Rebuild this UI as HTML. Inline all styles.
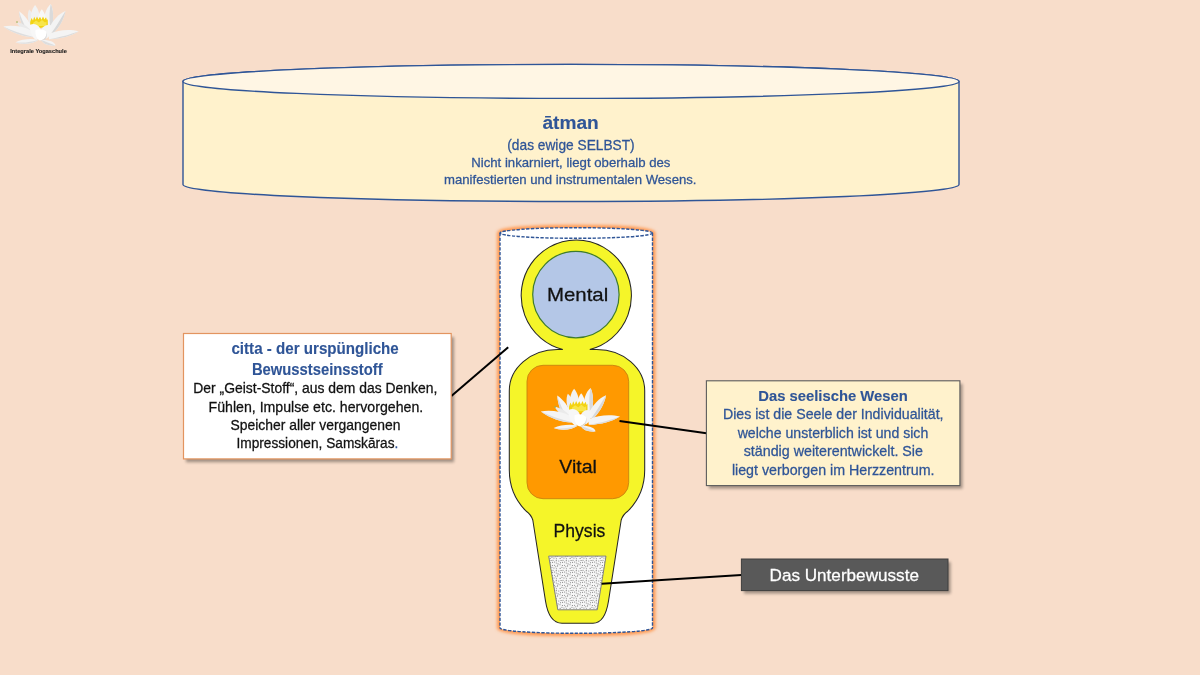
<!DOCTYPE html>
<html><head><meta charset="utf-8">
<style>
html,body{margin:0;padding:0;}
body{width:1200px;height:675px;overflow:hidden;background:#F8DDCA;font-family:"Liberation Sans",sans-serif;}
svg{position:absolute;left:0;top:0;will-change:transform;}
</style></head><body>
<svg width="1200" height="675" viewBox="0 0 1200 675" font-family="Liberation Sans, sans-serif">
<defs>
  <filter id="glow" x="-20%" y="-10%" width="140%" height="120%">
    <feGaussianBlur stdDeviation="1.8"/>
  </filter>
  <filter id="shd" x="-10%" y="-20%" width="130%" height="150%">
    <feGaussianBlur stdDeviation="1.5"/>
  </filter>
  <pattern id="dots" width="10" height="10" patternUnits="userSpaceOnUse">
    <rect width="10" height="10" fill="#F7F7F7"/>
    <g fill="#777777"><circle cx="2.38" cy="5.44" r="0.55"/><circle cx="6.26" cy="0.66" r="0.55"/><circle cx="6.26" cy="10.66" r="0.55"/><circle cx="0.13" cy="8.37" r="0.55"/><circle cx="10.13" cy="8.37" r="0.55"/><circle cx="2.59" cy="2.34" r="0.55"/><circle cx="-0.04" cy="4.70" r="0.55"/><circle cx="9.96" cy="4.70" r="0.55"/><circle cx="6.35" cy="8.68" r="0.55"/><circle cx="7.58" cy="5.91" r="0.55"/><circle cx="3.01" cy="0.31" r="0.55"/><circle cx="3.01" cy="10.31" r="0.55"/><circle cx="3.95" cy="8.01" r="0.55"/><circle cx="8.79" cy="0.97" r="0.55"/><circle cx="8.79" cy="10.97" r="0.55"/><circle cx="6.27" cy="3.01" r="0.55"/><circle cx="4.60" cy="5.20" r="0.55"/><circle cx="0.50" cy="2.71" r="0.55"/><circle cx="10.50" cy="2.71" r="0.55"/><circle cx="5.80" cy="6.76" r="0.55"/><circle cx="1.09" cy="0.43" r="0.55"/><circle cx="1.09" cy="10.43" r="0.55"/><circle cx="4.60" cy="1.95" r="0.55"/><circle cx="8.02" cy="3.88" r="0.55"/><circle cx="1.94" cy="7.31" r="0.55"/></g>
  </pattern>
  <g id="lotus">
  <!-- back tall petals -->
  <path d="M29.1,9.6 C27,14 27.5,21 31,28 L37,26 C36,19 33,13 29.1,9.6Z" fill="#EDEDED"/>
  <path d="M35.1,4.9 C31.5,9 30,16 31.5,26 L40.5,25 C40.5,16 38.5,9 35.1,4.9Z" fill="#F2F2F2"/>
  <path d="M50.7,4.1 C46,8 43.5,16 44,25 L52.5,26 C53.5,17 53.5,9.5 50.7,4.1Z" fill="#F4F4F4"/>
  <path d="M50.7,4.1 C49.5,10 49,17 50,25.5 L52.5,26 C53.5,17 53.5,9.5 50.7,4.1Z" fill="#DADADA"/>
  <path d="M41.8,9.2 C38.5,13 37.5,19 38.5,25.5 L46,25 C46.5,19 45,13 41.8,9.2Z" fill="#F8F8F8"/>
  <!-- yellow stamens -->
  <path d="M30.2,22 L31.5,18 L33,20.5 L34.2,16.8 L35.6,19.8 L37,16.5 L38.4,19.5 L40,16.8 L41.5,19.8 L43,16.5 L44.4,19.5 L46,17.2 L47,20.3 L47.8,19 L47.8,26 C43,28.5 35,28.5 30.2,26Z" fill="#F3D312"/>
  <path d="M33,23 L36,20.5 L39,22.5 L42,20 L45,22.5 L46.5,21.5 L46.5,26 L33,26Z" fill="#F8E54A"/>
  <!-- side upper petals -->
  <path d="M18.97,11.3 C24.5,15 29.5,21 33,31 L27,33 C22,27 19.5,19 18.97,11.3Z" fill="#F5F5F5"/>
  <path d="M18.97,11.3 C21,18 24,25 28.5,32.5 L27,33 C22,27 19.5,19 18.97,11.3Z" fill="#DCDCDC"/>
  <path d="M65.5,10.9 C59,13.5 52.5,20 47.5,31 L53,33.5 C59.5,27 64,19 65.5,10.9Z" fill="#F3F3F3"/>
  <path d="M65.5,10.9 C61.5,17.5 57,25 51.5,33 L53,33.5 C59.5,27 64,19 65.5,10.9Z" fill="#D8D8D8"/>
  <path d="M16.4,21.9 C21,22.5 27,25.5 31,30.5 L27,32.5 C22.5,29.5 18.5,26 16.4,21.9Z" fill="#EAEAEA"/>
  <circle cx="17" cy="22.1" r="0.8" fill="#9AAE50"/>
  <!-- horizontal petals -->
  <path d="M3.3,26.5 C11,25 23,26 31,30.5 L34,37 C25,37.5 12,33 3.3,26.5Z" fill="#F4F4F4"/>
  <path d="M3.3,26.5 C12,30.5 22,34 34,37 C25,37.5 12,33 3.3,26.5Z" fill="#DEDEDE"/>
  <path d="M78.7,31.2 C70,29 59,29.5 48.5,34 L49,39.2 C61,38.8 71,36 78.7,31.2Z" fill="#F4F4F4"/>
  <path d="M78.7,31.2 C70,34.5 61,37 49,39.2 C61,38.8 71,36 78.7,31.2Z" fill="#DBDBDB"/>
  <!-- front cup petals -->
  <path d="M30,25 C33,23 37.5,24 40,28 C41.5,33 40,38 36.5,40 C32,38 29.5,31 30,25Z" fill="#F7F7F7"/>
  <path d="M51.5,25.5 C47.5,24 43,25.5 41.5,29.5 C40.5,34 42.5,37.5 46.5,38.5 C50.5,36 52.5,31 51.5,25.5Z" fill="#F5F5F5"/>
  <path d="M35.5,30 C39.5,28.5 44,29 46.5,32 C47,36.5 43.5,40.5 40,40.5 C36.5,39.5 35,34.5 35.5,30Z" fill="#FFFFFF"/>
  <path d="M40,40.5 C43.5,40.5 47,36.5 46.5,32 C48,36 46,40 42.5,41.5Z" fill="#DDDDDD"/>
  <!-- bottom petals -->
  <path d="M15.6,42.2 C22,39 31,38.5 38.8,39.7 C33,44 23,45 15.6,42.2Z" fill="#F4F4F4"/>
  <path d="M15.6,42.2 C23,43.3 31,42 38.8,39.7 C33,44 23,45 15.6,42.2Z" fill="#E0E0E0"/>
  <path d="M55.4,45.6 C55.5,42 49,39.5 41.5,40 C43,44 48.5,46 55.4,45.6Z" fill="#F3F3F3"/>
  <path d="M55.4,45.6 C51.5,44 46.5,42 41.5,40 C43,44 48.5,46 55.4,45.6Z" fill="#DDDDDD"/>
</g>

</defs>

<!-- logo -->
<use href="#lotus"/>

<!-- big cylinder atman -->
<path d="M183,81.4 L183,184.5 A388,17 0 0 0 959,184.5 L959,81.4 A388,17 0 0 0 183,81.4Z" fill="#FFF2CC" stroke="#2F5597" stroke-width="1.4"/>
<ellipse cx="571" cy="81.4" rx="388" ry="17" fill="#FFF6E4" stroke="#2F5597" stroke-width="1.4"/>

<!-- tall cylinder -->
<path d="M500,233 L500,628 A76.25,5.3 0 0 0 652.5,628 L652.5,233 A76.25,5.3 0 0 0 500,233Z" fill="none" stroke="#FF9B55" stroke-width="6" filter="url(#glow)"/>
<path d="M500,233 L500,628 A76.25,5.3 0 0 0 652.5,628 L652.5,233 A76.25,5.3 0 0 0 500,233Z" fill="#FFFFFF"/>
<path d="M500,233 L500,628 A76.25,5.3 0 0 0 652.5,628 L652.5,233" fill="none" stroke="#2F5597" stroke-width="1.4" stroke-dasharray="3.3 1.45"/>
<ellipse cx="576.25" cy="233" rx="76.25" ry="5.3" fill="none" stroke="#2F5597" stroke-width="1.4" stroke-dasharray="3.3 1.45"/>

<!-- body -->
<path d="M562.8,349.5 L557.3,349.5 A48,41.3 0 0 0 509.3,390.8 L509.3,470 C509.3,489 518,503 526,511 Q531,514.5 532.8,520 L545.5,601 C547.5,614 552,623 562,623.3 L593,623.3 C602,623 606.5,614 608.5,601 L621.2,520 Q623,514.5 628,511 C636,503 644.7,489 644.7,470 L644.7,390.8 A48,41.3 0 0 0 596.7,349.5 L589.8,349.5 A55.1,55.6 0 1 0 562.8,349.5Z" fill="#F5F529" stroke="#262626" stroke-width="1.05"/>
<circle cx="575.9" cy="294.6" r="43.2" fill="#B4C7E7" stroke="#3E7B2E" stroke-width="1.2"/>
<rect x="527" y="365.3" width="101.7" height="133.4" rx="16" fill="#FF9900" stroke="#C8830F" stroke-width="0.9"/>
<path d="M548.7,556.1 L606,556.1 L597.3,609.8 L557.8,609.8Z" fill="url(#dots)" stroke="#808080" stroke-width="1"/>

<use href="#lotus" transform="translate(537.3,383.7) scale(1.05)"/>

<!-- connector lines -->
<line x1="451.4" y1="396" x2="508.2" y2="347.3" stroke="#000" stroke-width="2"/>
<line x1="619.5" y1="421" x2="706.5" y2="433.2" stroke="#000" stroke-width="2"/>
<line x1="601.7" y1="583.7" x2="741.4" y2="575" stroke="#000" stroke-width="2"/>

<!-- left box -->
<rect x="186" y="337" width="268" height="125.2" fill="#000" opacity="0.35" filter="url(#shd)"/>
<rect x="183.5" y="333.5" width="267.7" height="125.4" fill="#FFFFFF" stroke="#E3945F" stroke-width="1.2"/>

<!-- right box -->
<rect x="709" y="383.8" width="253.5" height="104.8" fill="#000" opacity="0.35" filter="url(#shd)"/>
<rect x="706.4" y="380.8" width="253.5" height="104.8" fill="#FFF2CC" stroke="#5C5C5C" stroke-width="1.1"/>

<!-- dark box -->
<rect x="744" y="562" width="206.6" height="31.6" fill="#000" opacity="0.35" filter="url(#shd)"/>
<rect x="741.4" y="559" width="206.6" height="31.6" fill="#595959" stroke="#3F3F3F" stroke-width="1"/>
<text x="10.29" y="52.8" font-size="6.1" font-weight="bold" fill="#1a1a1a" stroke="#1a1a1a" stroke-width="0.12" textLength="56.54" lengthAdjust="spacingAndGlyphs">Integrale Yogaschule</text>
<text x="542.45" y="128.7" font-size="18.75" font-weight="bold" fill="#2F5597" stroke="#2F5597" stroke-width="0.12" textLength="56.34" lengthAdjust="spacingAndGlyphs">ātman</text>
<text x="507.30" y="149.6" font-size="13.85" font-weight="normal" fill="#2F5597" stroke="#2F5597" stroke-width="0.26" textLength="127.39" lengthAdjust="spacingAndGlyphs">(das ewige SELBST)</text>
<text x="471.23" y="167.1" font-size="12.6" font-weight="normal" fill="#2F5597" stroke="#2F5597" stroke-width="0.26" textLength="199.22" lengthAdjust="spacingAndGlyphs">Nicht inkarniert, liegt oberhalb des</text>
<text x="444.02" y="183.5" font-size="12.6" font-weight="normal" fill="#2F5597" stroke="#2F5597" stroke-width="0.26" textLength="252.52" lengthAdjust="spacingAndGlyphs">manifestierten und instrumentalen Wesens.</text>
<text x="547.05" y="300.9" font-size="18.6" font-weight="normal" fill="#111111" stroke="#111111" stroke-width="0.26" textLength="61.20" lengthAdjust="spacingAndGlyphs">Mental</text>
<text x="559.21" y="472.5" font-size="18.6" font-weight="normal" fill="#111111" stroke="#111111" stroke-width="0.26" textLength="37.65" lengthAdjust="spacingAndGlyphs">Vital</text>
<text x="553.59" y="537.0" font-size="18.6" font-weight="normal" fill="#111111" stroke="#111111" stroke-width="0.26" textLength="51.74" lengthAdjust="spacingAndGlyphs">Physis</text>
<text x="231.46" y="353.75" font-size="16.0" font-weight="bold" fill="#2F5597" stroke="#2F5597" stroke-width="0.12" textLength="167.32" lengthAdjust="spacingAndGlyphs">citta - der urspüngliche</text>
<text x="251.93" y="374.7" font-size="16.0" font-weight="bold" fill="#2F5597" stroke="#2F5597" stroke-width="0.12" textLength="130.69" lengthAdjust="spacingAndGlyphs">Bewusstseinsstoff</text>
<text x="193.26" y="393.3" font-size="14.1" font-weight="normal" fill="#111111" stroke="#111111" stroke-width="0.26" textLength="244.17" lengthAdjust="spacingAndGlyphs">Der „Geist-Stoff“, aus dem das Denken,</text>
<text x="208.54" y="411.9" font-size="14.1" font-weight="normal" fill="#111111" stroke="#111111" stroke-width="0.26" textLength="214.68" lengthAdjust="spacingAndGlyphs">Fühlen, Impulse etc. hervorgehen.</text>
<text x="230.41" y="430.4" font-size="14.1" font-weight="normal" fill="#111111" stroke="#111111" stroke-width="0.26" textLength="170.08" lengthAdjust="spacingAndGlyphs">Speicher aller vergangenen</text>
<text x="236.47" y="448.4" font-size="14.1" font-weight="normal" fill="#111111" stroke="#111111" stroke-width="0.26" textLength="161.90" lengthAdjust="spacingAndGlyphs">Impressionen, Samskāras<tspan fill="#2F5597" stroke="#2F5597">.</tspan></text>
<text x="758.28" y="400.75" font-size="14.7" font-weight="bold" fill="#2F5597" stroke="#2F5597" stroke-width="0.12" textLength="149.49" lengthAdjust="spacingAndGlyphs">Das seelische Wesen</text>
<text x="722.95" y="419.4" font-size="14.2" font-weight="normal" fill="#2F5597" stroke="#2F5597" stroke-width="0.26" textLength="220.59" lengthAdjust="spacingAndGlyphs">Dies ist die Seele der Individualität,</text>
<text x="737.64" y="438.1" font-size="14.2" font-weight="normal" fill="#2F5597" stroke="#2F5597" stroke-width="0.26" textLength="190.63" lengthAdjust="spacingAndGlyphs">welche unsterblich ist und sich</text>
<text x="743.67" y="456.3" font-size="14.2" font-weight="normal" fill="#2F5597" stroke="#2F5597" stroke-width="0.26" textLength="179.31" lengthAdjust="spacingAndGlyphs">ständig weiterentwickelt. Sie</text>
<text x="731.88" y="474.5" font-size="14.2" font-weight="normal" fill="#2F5597" stroke="#2F5597" stroke-width="0.26" textLength="202.59" lengthAdjust="spacingAndGlyphs">liegt verborgen im Herzzentrum.</text>
<text x="769.53" y="580.7" font-size="17.2" font-weight="normal" fill="#FFFFFF" stroke="#FFFFFF" stroke-width="0.26" textLength="149.41" lengthAdjust="spacingAndGlyphs">Das Unterbewusste</text>
</svg>
</body></html>
